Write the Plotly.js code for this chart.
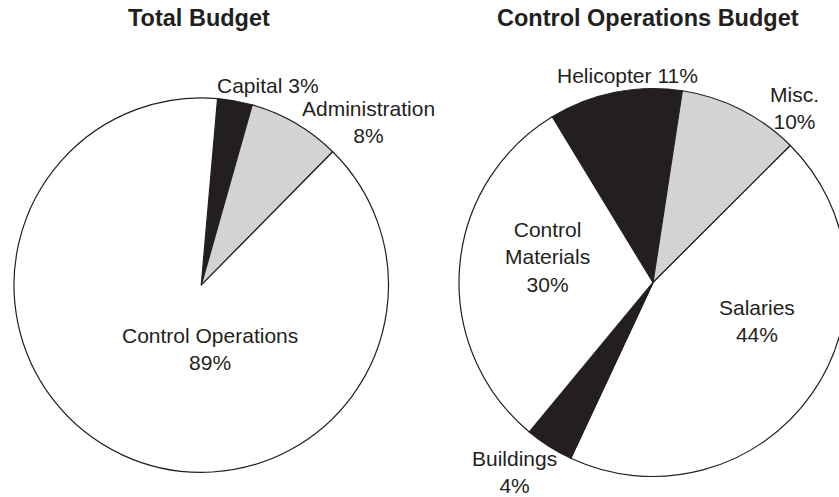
<!DOCTYPE html>
<html>
<head>
<meta charset="utf-8">
<script src="https://cdn.plot.ly/plotly-3.0.1.min.js"></script>
<style>
html, body { margin: 0; padding: 0; overflow: hidden; background: #fff; }
#chart { width: 860px; height: 497px; }
</style>
</head>
<body>
<div id="chart"></div>
<script>
// ---- data ----
const totalLabels = ["Capital", "Administration", "Control Operations"];
const totalValues = [3, 8, 89];
const totalColors = ["#231f20", "#d1d3d4", "#ffffff"];

const opsLabels = ["Helicopter", "Misc.", "Salaries", "Buildings", "Control Materials"];
const opsValues = [11, 10, 44, 4, 30];
const opsColors = ["#231f20", "#d1d3d4", "#ffffff", "#231f20", "#ffffff"];

const titles = ["Total Budget", "Control Operations Budget"];

// ---- layout helpers ----
const W = 860, H = 497;
const px = x => x / W;
const py = y => 1 - y / H;
const FONT = "Liberation Sans, Arial, Helvetica, sans-serif";
const INK = "#231f20";

const traces = [
  {
    type: "pie", labels: totalLabels, values: totalValues, sort: false,
    direction: "clockwise", rotation: 5, textinfo: "none", hoverinfo: "none",
    marker: { colors: totalColors, line: { color: INK, width: 1.2 } },
    domain: { x: [px(14), px(388.5)], y: [py(472.5), py(97.7)] },
    showlegend: false
  },
  {
    type: "pie", labels: opsLabels, values: opsValues, sort: false,
    direction: "clockwise", rotation: -31.3, textinfo: "none", hoverinfo: "none",
    marker: { colors: opsColors, line: { color: INK, width: 1.2 } },
    domain: { x: [px(459), px(847)], y: [py(476.5), py(88.5)] },
    showlegend: false
  }
];

function lab(text, x, y) {
  return { text: text, x: px(x), y: py(y), xref: "paper", yref: "paper",
    xanchor: "center", yanchor: "middle", showarrow: false, align: "center",
    font: { family: FONT, size: 21, color: INK } };
}
function ttl(text, x, y) {
  return { text: "<b>" + text + "</b>", x: px(x), y: py(y), xref: "paper", yref: "paper",
    xanchor: "center", yanchor: "middle", showarrow: false,
    font: { family: FONT, size: 23.5, color: INK } };
}
const pct = (arr, i) => arr[i] + "%";

const annotations = [
  ttl(titles[0], 198.5, 18.5),
  ttl(titles[1], 648, 18.5),
  lab(totalLabels[0] + " " + pct(totalValues, 0), 268, 85.5),
  lab(totalLabels[1] + "<br>" + pct(totalValues, 1), 368, 122),
  lab(totalLabels[2] + "<br>" + pct(totalValues, 2), 210, 349),
  lab(opsLabels[0] + " " + pct(opsValues, 0), 627.5, 75.5),
  lab(opsLabels[1] + "<br>" + pct(opsValues, 1), 794, 107.5),
  lab("Control<br>Materials<br>" + pct(opsValues, 4), 547, 257),
  lab(opsLabels[2] + "<br>" + pct(opsValues, 2), 757, 320.5),
  lab(opsLabels[3] + "<br>" + pct(opsValues, 3), 514, 471.5)
];

Plotly.newPlot("chart", traces, {
  width: W, height: H,
  margin: { l: 0, r: 0, t: 0, b: 0 },
  paper_bgcolor: "#ffffff",
  font: { family: FONT, color: INK },
  annotations: annotations
}, { staticPlot: true });
</script>
</body>
</html>
